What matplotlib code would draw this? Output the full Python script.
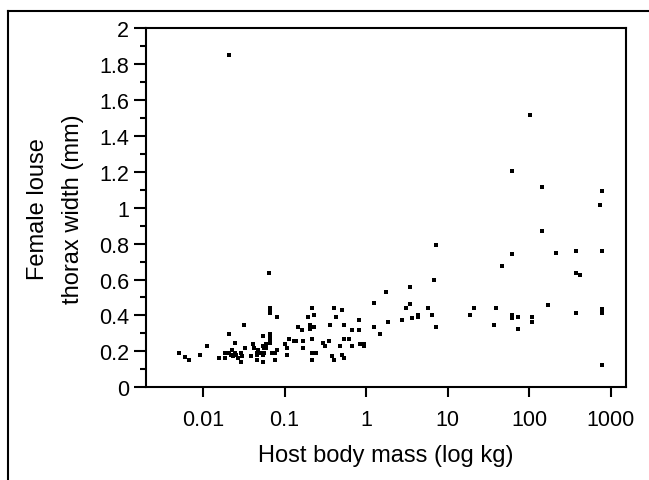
import matplotlib
matplotlib.use("Agg")
import matplotlib.pyplot as plt
from matplotlib.lines import Line2D
from matplotlib.ticker import FixedLocator, MultipleLocator, FuncFormatter, NullLocator

plt.rcParams['font.family'] = ['Liberation Sans', 'DejaVu Sans']

# host body mass (kg) and female louse thorax width (mm)
host_mass_kg = [
    0.00504, 0.00597, 0.00668, 0.0093, 0.0111, 0.0156, 0.0184, 0.0184,
    0.0206, 0.0206, 0.0206, 0.0220, 0.0225, 0.0230, 0.0244, 0.0244,
    0.0257, 0.0270, 0.0289, 0.0289, 0.0300, 0.0315, 0.0324, 0.0384,
    0.0406, 0.0425, 0.0454, 0.0454, 0.0454, 0.0476, 0.0500, 0.0540,
    0.0540, 0.0540, 0.0538, 0.0565, 0.0565, 0.0598, 0.0598, 0.0598,
    0.0637, 0.0665, 0.0665, 0.0665, 0.0665, 0.0665, 0.0665, 0.0665,
    0.0665, 0.0710, 0.0755, 0.0755, 0.0798, 0.0798,
    0.100, 0.106, 0.106, 0.112, 0.132, 0.140, 0.147, 0.165,
    0.166, 0.166, 0.195, 0.206, 0.206, 0.218, 0.231, 0.231,
    0.218, 0.218, 0.244, 0.218, 0.292, 0.309, 0.346, 0.362,
    0.387, 0.409, 0.409, 0.430, 0.51, 0.542, 0.68, 0.807,
    0.807, 0.542, 0.61, 0.485, 0.68, 0.85, 0.955, 0.955,
    0.51, 0.542,
    1.26, 1.26, 1.5, 1.77, 1.87, 2.78, 3.12, 3.49, 3.49, 3.69,
    4.37, 4.37, 5.8, 6.48, 6.86, 7.26, 7.26,
    18.9, 21.2, 37.2, 39.4, 46.6, 61.8, 61.8, 61.8, 61.8, 61.8,
    73.1, 73.1, 102.6, 108, 108, 143.8, 143.8, 170, 213, 375,
    375, 419, 375, 780, 737, 780, 780, 780, 780, 780,
]
thorax_mm = [
    0.193, 0.169, 0.149, 0.182, 0.227, 0.160, 0.160, 0.193,
    1.852, 0.294, 0.193, 0.182, 0.205, 0.171, 0.249, 0.193,
    0.182, 0.160, 0.193, 0.138, 0.171, 0.349, 0.216, 0.171,
    0.238, 0.216, 0.193, 0.182, 0.149, 0.205, 0.193, 0.182,
    0.138, 0.227, 0.283, 0.216, 0.193, 0.238, 0.227, 0.216,
    0.639, 0.444, 0.429, 0.414, 0.294, 0.283, 0.271, 0.260,
    0.249, 0.193, 0.193, 0.149, 0.205, 0.394,
    0.238, 0.216, 0.182, 0.271, 0.260, 0.260, 0.338, 0.316,
    0.260, 0.216, 0.394, 0.349, 0.327, 0.439, 0.405, 0.338,
    0.271, 0.193, 0.193, 0.149, 0.249, 0.227, 0.260, 0.349,
    0.171, 0.149, 0.439, 0.394, 0.428, 0.349, 0.316, 0.316,
    0.372, 0.271, 0.271, 0.227, 0.227, 0.238, 0.238, 0.227,
    0.182, 0.160,
    0.472, 0.338, 0.294, 0.528, 0.361, 0.372, 0.439, 0.561, 0.461, 0.383,
    0.405, 0.394, 0.439, 0.405, 0.595, 0.795, 0.338,
    0.405, 0.439, 0.349, 0.439, 0.673, 1.206, 0.740, 0.405, 0.394, 0.383,
    0.394, 0.327, 1.518, 0.394, 0.361, 1.117, 0.871, 0.459, 0.749, 0.760,
    0.637, 0.626, 0.414, 1.094, 1.016, 0.760, 0.436, 0.425, 0.414, 0.124,
]

x_ticks = [0.01, 0.1, 1, 10, 100, 1000]
x_tick_labels = ["0.01", "0.1", "1", "10", "100", "1000"]

fig = plt.figure(figsize=(6.49, 4.81), dpi=100)
ax = fig.add_axes([0.225, 0.193, 0.7396, 0.7457])

ax.plot(host_mass_kg, thorax_mm, linestyle="none", marker="s",
        markersize=2.4, markeredgewidth=0, color="black")

ax.set_xscale("log")
ax.set_xlim(0.002, 1540)
ax.set_ylim(0, 2)
ax.xaxis.set_major_locator(FixedLocator(x_ticks))
ax.set_xticklabels(x_tick_labels)
ax.xaxis.set_minor_locator(NullLocator())
ax.yaxis.set_major_locator(MultipleLocator(0.2))
ax.yaxis.set_minor_locator(MultipleLocator(0.1))
ax.yaxis.set_major_formatter(FuncFormatter(lambda v, p: f"{v:g}"))

for s in ax.spines.values():
    s.set_linewidth(1.5)
ax.tick_params(axis="x", which="major", direction="out", length=7.5, width=1.5,
               labelsize=15.5, pad=8)
ax.tick_params(axis="y", which="major", direction="out", length=9, width=1.5,
               labelsize=15.5, pad=3)
ax.tick_params(axis="y", which="minor", direction="out", length=4.5, width=1.5)

ax.set_xlabel("Host body mass (log kg)", fontsize=17, labelpad=10)
ax.set_ylabel("Female louse\nthorax width (mm)", fontsize=17, labelpad=11,
              linespacing=1.75)

# frame lines of the original panel (left and top edges)
fig.add_artist(Line2D([0.0128, 0.0128], [0.0, 0.9757], transform=fig.transFigure,
                      color="black", linewidth=1.5))
fig.add_artist(Line2D([0.0128, 1.0], [0.9757, 0.9757], transform=fig.transFigure,
                      color="black", linewidth=1.5))

fig.savefig("out.png", dpi=100)
